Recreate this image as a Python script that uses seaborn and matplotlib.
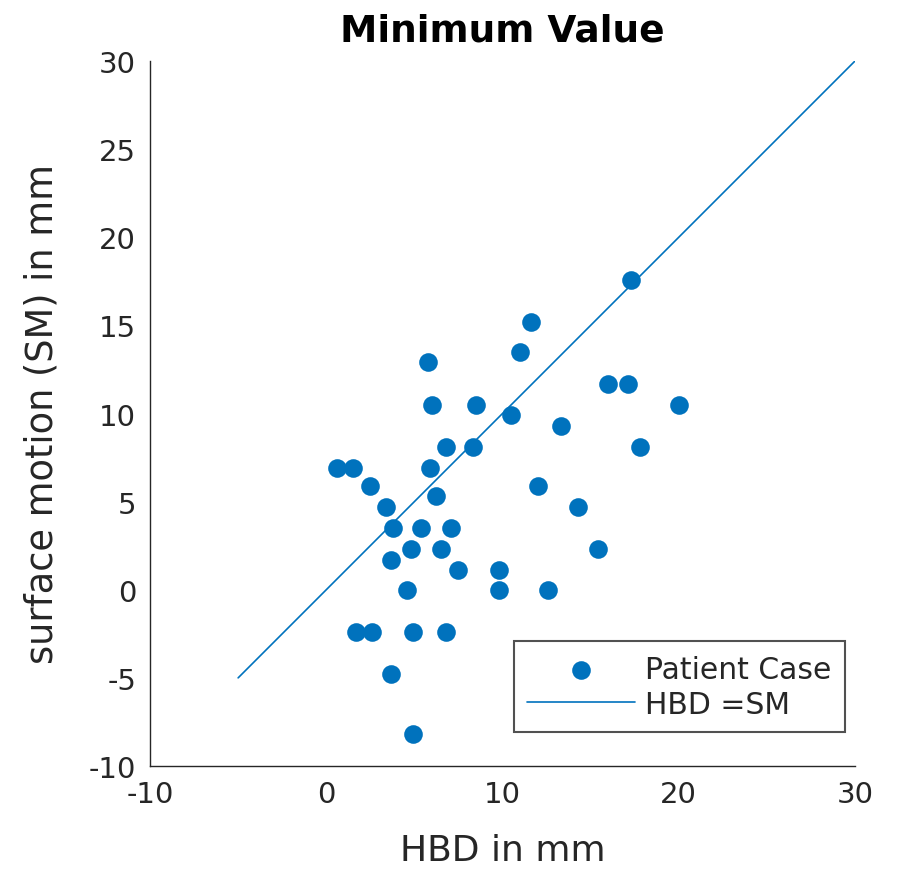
import matplotlib
matplotlib.use("Agg")
import matplotlib.pyplot as plt
import seaborn as sns
import pandas as pd

hbd = [0.6, 1.5, 2.5, 3.4, 3.8, 3.7, 1.7, 2.6, 3.7, 4.9, 4.9, 4.6, 4.8, 5.4,
       5.8, 6.0, 5.9, 6.2, 6.5, 6.8, 7.1, 7.5, 6.8, 8.5, 8.3, 9.8, 9.8, 10.5,
       11.0, 11.6, 12.0, 12.6, 13.3, 14.3, 15.4, 16.0, 17.1, 17.3, 17.8, 20.0]
sm = [6.9, 6.9, 5.9, 4.7, 3.5, 1.7, -2.4, -2.4, -4.8, -8.2, -2.4, 0.0, 2.3, 3.5,
      12.9, 10.5, 6.9, 5.3, 2.3, 8.1, 3.5, 1.1, -2.4, 10.5, 8.1, 1.1, 0.0, 9.9,
      13.5, 15.2, 5.9, 0.0, 9.3, 4.7, 2.3, 11.7, 11.7, 17.6, 8.1, 10.5]
line_x = [-5, 30]
line_y = [-5, 30]

sns.set_style("white")
plt.rcParams['font.family'] = ['DejaVu Sans']
plt.rcParams['axes.unicode_minus'] = False

fig = plt.figure(figsize=(8.98, 8.7), dpi=100)
ax = fig.add_axes([150/898, 103/870, 705/898, 705/870])

blue = "#0072BD"
grey = "#262626"
df = pd.DataFrame({"HBD": hbd, "SM": sm})
ldf = pd.DataFrame({"x": line_x, "y": line_y})

sns.scatterplot(data=df, x="HBD", y="SM", ax=ax, color=blue, s=180,
                marker="o", edgecolor=blue, linewidth=0, label="Patient Case")
sns.lineplot(data=ldf, x="x", y="y", ax=ax, color=blue, linewidth=1.2,
             label="HBD =SM")

ax.set_xlim(-10, 30)
ax.set_ylim(-10, 30)
ax.set_xticks([-10, 0, 10, 20, 30])
ax.set_yticks([-10, -5, 0, 5, 10, 15, 20, 25, 30])
for s in ["top", "right"]:
    ax.spines[s].set_visible(False)
for s in ["left", "bottom"]:
    ax.spines[s].set_color(grey)
    ax.spines[s].set_linewidth(1.0)
ax.tick_params(direction="in", length=7, width=1, colors=grey,
               labelsize=21, pad=10)
ax.set_xlabel("HBD in mm", fontsize=26, color=grey, labelpad=18)
ax.set_ylabel("surface motion (SM) in mm", fontsize=26.5, color=grey, labelpad=20)
ax.set_title("Minimum Value", fontsize=27, fontweight="bold", pad=15,
             color="black")

leg = ax.legend(loc="lower right", bbox_to_anchor=(0.986, 0.048), fontsize=21.5,
                frameon=True, fancybox=False, edgecolor=grey,
                handlelength=3.6, borderpad=0.45, labelspacing=0.2,
                handletextpad=0.35, borderaxespad=0, markerscale=1.0)
leg.get_frame().set_linewidth(1.5)
for t in leg.get_texts():
    t.set_color(grey)

fig.savefig("out.png", dpi=100, facecolor="white")
